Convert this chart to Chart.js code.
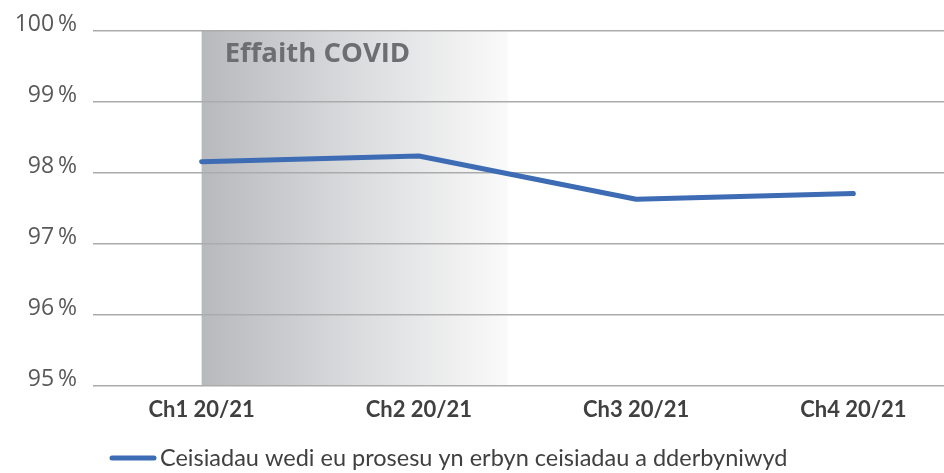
<!DOCTYPE html>
<html>
<head>
<meta charset="utf-8">
<script src="https://cdn.jsdelivr.net/npm/chart.js@4/dist/chart.umd.min.js"></script>
<style>
  html, body { margin: 0; padding: 0; background: #fff; overflow: hidden; }
  #wrap { position: relative; width: 962px; height: 473px; }
</style>
</head>
<body>
<div id="wrap"><canvas id="c"></canvas></div>
<script>
// Quarterly categories and the share of applications processed
const quarters = ['Ch1 20/21', 'Ch2 20/21', 'Ch3 20/21', 'Ch4 20/21'];
const processedShare = [98.16, 98.24, 97.63, 97.71];
const seriesLabel = 'Ceisiadau wedi eu prosesu yn erbyn ceisiadau a dderbyniwyd';
const yTicks = [95, 96, 97, 98, 99, 100];
const bandLabel = 'Effaith COVID';

const FONT = 'Lato, "Open Sans", sans-serif';
const TICK_FONT = '"Open Sans", Lato, sans-serif';
const LINE_COLOR = '#3d6cb5';

// Shaded band marking the COVID period, drawn under the grid
const covidBand = {
  id: 'covidBand',
  beforeDraw(chart) {
    const { ctx, chartArea, scales } = chart;
    const x = scales.x;
    const x0 = x.getPixelForValue(0);
    const step = x.getPixelForValue(1) - x0;
    const x1 = x0 + step * 1.41;
    const g = ctx.createLinearGradient(x0, 0, x1, 0);
    g.addColorStop(0, '#b8b9bd');
    g.addColorStop(0.5, '#dadbdd');
    g.addColorStop(1, '#fafafa');
    ctx.save();
    ctx.fillStyle = g;
    ctx.fillRect(x0, chartArea.top, x1 - x0, chartArea.bottom - chartArea.top);
    ctx.restore();
  },
  afterDraw(chart) {
    const { ctx, chartArea, scales } = chart;
    const x0 = scales.x.getPixelForValue(0);
    ctx.save();
    ctx.fillStyle = '#6d6e71';
    ctx.font = 'bold 27.5px ' + TICK_FONT;
    ctx.textBaseline = 'alphabetic';
    ctx.textAlign = 'left';
    ctx.fillText(bandLabel, x0 + 23, chartArea.top + 31);
    ctx.restore();
  }
};

// Legend line sample and text below the axis
const legendLine = {
  id: 'legendLine',
  afterDraw(chart) {
    const { ctx } = chart;
    const y = 458;
    ctx.save();
    ctx.strokeStyle = LINE_COLOR;
    ctx.lineWidth = 5;
    ctx.lineCap = 'round';
    ctx.beginPath();
    ctx.moveTo(112, y);
    ctx.lineTo(154, y);
    ctx.stroke();
    ctx.fillStyle = '#404040';
    ctx.font = '23.5px ' + FONT;
    ctx.textBaseline = 'middle';
    ctx.fillText(seriesLabel, 160, y);
    ctx.restore();
  }
};

new Chart(document.getElementById('c'), {
  type: 'line',
  data: {
    labels: quarters,
    datasets: [{
      label: seriesLabel,
      data: processedShare,
      borderColor: LINE_COLOR,
      backgroundColor: LINE_COLOR,
      borderWidth: 5,
      borderCapStyle: 'round',
      borderJoinStyle: 'round',
      pointRadius: 0,
      tension: 0
    }]
  },
  options: {
    responsive: true,
    maintainAspectRatio: false,
    animation: false,
    events: [],
    layout: { padding: { top: 31, bottom: 37, left: 0, right: 0 } },
    plugins: { legend: { display: false }, tooltip: { enabled: false } },
    scales: {
      x: {
        offset: true,
        grid: { display: false, drawTicks: false },
        border: { display: false },
        ticks: {
          color: '#404040',
          font: { family: FONT, size: 22, weight: 'bold' },
          padding: 11,
          maxRotation: 0
        },
        afterFit(s) { s.height = 50; }
      },
      y: {
        min: 95,
        max: 100,
        afterBuildTicks(s) { s.ticks = yTicks.map(v => ({ value: v })); },
        grid: { color: '#ababab', lineWidth: 1.5, drawTicks: false },
        border: { display: false },
        ticks: {
          color: '#595959',
          font: { family: TICK_FONT, size: 23 },
          padding: 16,
          labelOffset: -7,
          callback: v => v + '\u2009%'
        },
        afterFit(s) { s.width = 93; }
      }
    }
  },
  plugins: [covidBand, legendLine]
});
</script>
</body>
</html>
